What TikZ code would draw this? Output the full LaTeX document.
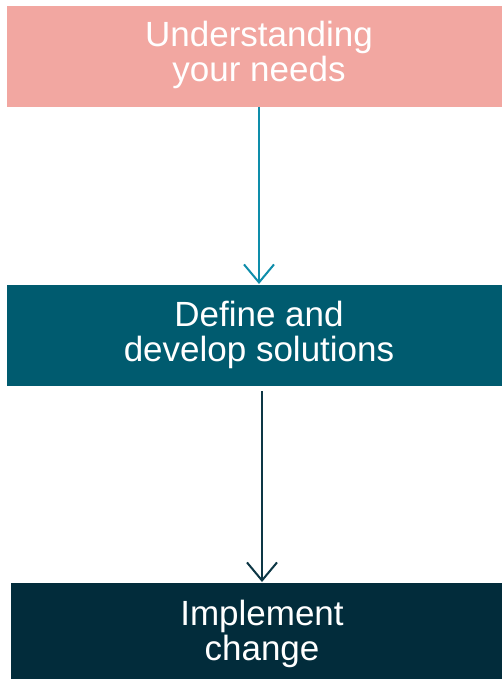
\documentclass[tikz,border=0pt]{standalone}
\usepackage{fontspec}
\setmainfont{Liberation Sans}
\usetikzlibrary{arrows.meta}
\definecolor{pinkbox}{HTML}{F2A7A1}
\definecolor{tealbox}{HTML}{005B6F}
\definecolor{darkbox}{HTML}{022C3B}
\definecolor{arrowteal}{HTML}{0E8DAA}
\definecolor{arrowdark}{HTML}{0D3745}
\begin{document}
\begin{tikzpicture}[x=1pt,y=-1pt,
  boxshape/.style={rectangle, inner sep=0pt, outer sep=0pt, draw=none},
  boxtext/.style={inner sep=0pt, outer sep=0pt, text=white, align=center, anchor=base,
    font=\fontsize{35}{35}\selectfont},
  conn/.style={line width=2pt, -{Straight Barb[length=18pt,width=30pt,line width=2pt]}}]
\useasboundingbox (0,0) rectangle (502,679);
\fill[white] (0,0) rectangle (502,679);
\node[boxshape, fill=pinkbox, minimum width=495pt, minimum height=101pt] (box1) at (254.5,56.5) {};
\node[boxshape, fill=tealbox, minimum width=495pt, minimum height=101pt] (box2) at (254.5,335.5) {};
\node[boxshape, fill=darkbox, minimum width=491pt, minimum height=96pt] (box3) at (256.5,631) {};
\node[boxtext] (t1) at (259,82) {Understanding\\your needs};
\node[boxtext] (t2) at (259,361) {Define and\\develop solutions};
\node[boxtext] (t3) at (262,660) {Implement\\change};
\draw[conn, arrowteal, shorten >=1pt] (box1.south -| t1.base) -- (box2.north -| t1.base);
\draw[conn, arrowdark, shorten <=5pt, shorten >=1pt] (box2.south -| t3.base) -- (box3.north -| t3.base);
\end{tikzpicture}
\end{document}
